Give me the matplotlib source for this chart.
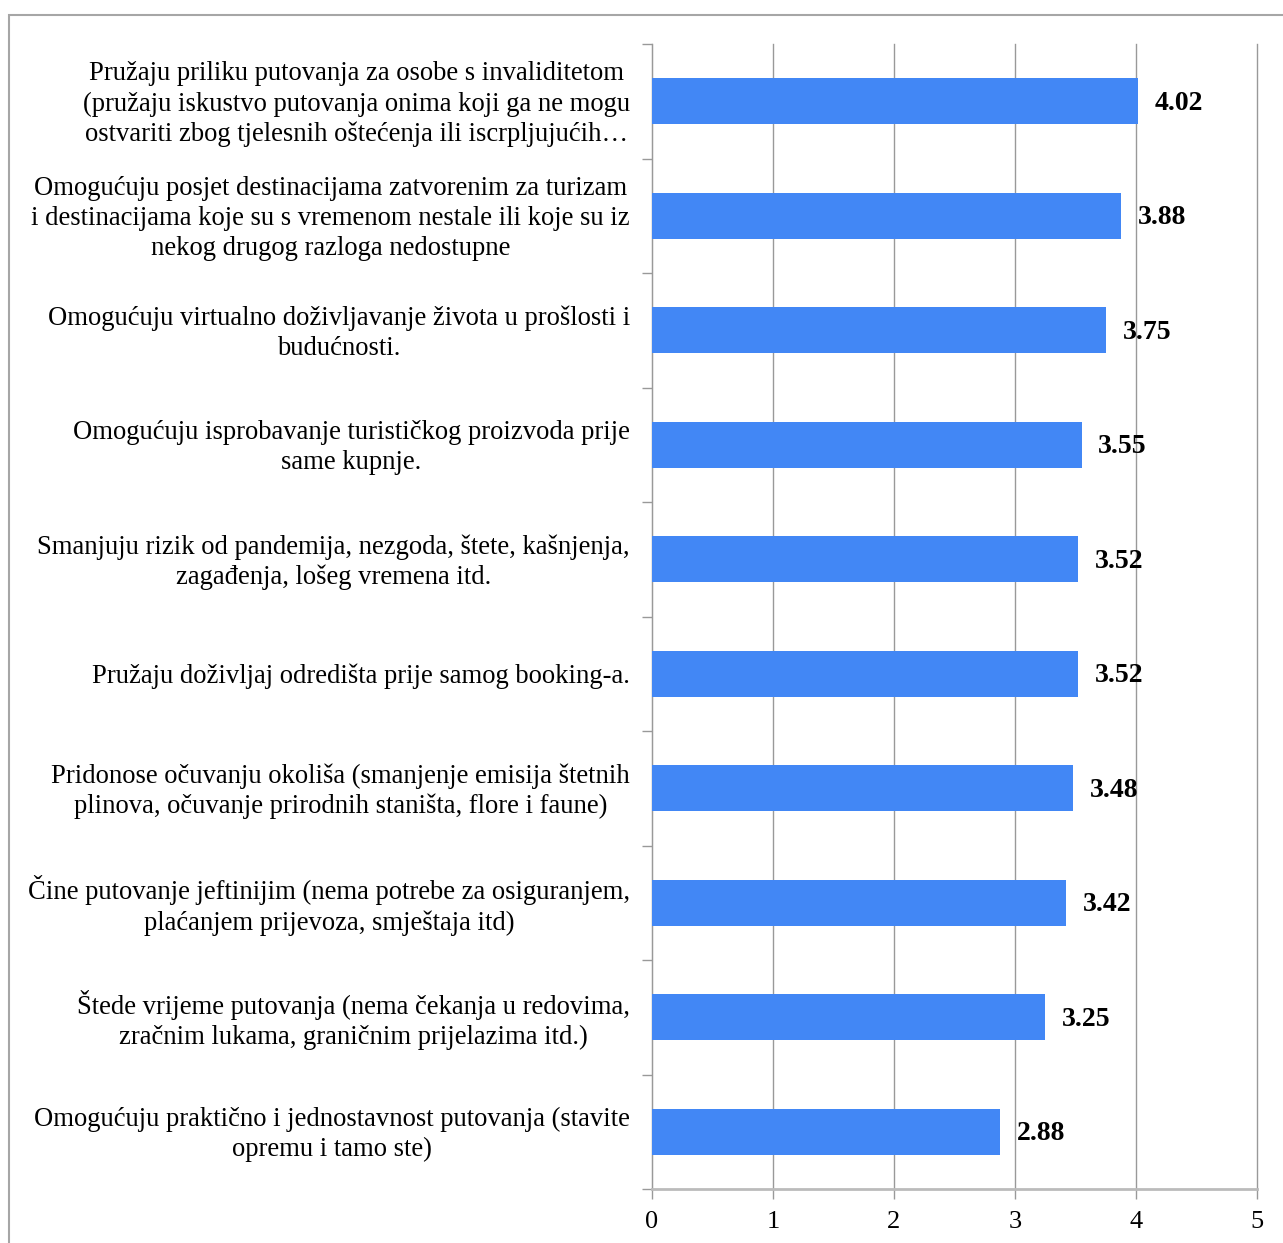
import matplotlib.pyplot as plt
from matplotlib.patches import Rectangle

plt.rcParams['font.family'] = ['Liberation Serif', 'DejaVu Serif']

labels = [
    "Pružaju priliku putovanja za osobe s invaliditetom\n(pružaju iskustvo putovanja onima koji ga ne mogu\nostvariti zbog tjelesnih oštećenja ili iscrpljujućih…",
    "Omogućuju posjet destinacijama zatvorenim za turizam\ni destinacijama koje su s vremenom nestale ili koje su iz\nnekog drugog razloga nedostupne",
    "Omogućuju virtualno doživljavanje života u prošlosti i\nbudućnosti.",
    "Omogućuju isprobavanje turističkog proizvoda prije\nsame kupnje.",
    "Smanjuju rizik od pandemija, nezgoda, štete, kašnjenja,\nzagađenja, lošeg vremena itd.",
    "Pružaju doživljaj odredišta prije samog booking-a.",
    "Pridonose očuvanju okoliša (smanjenje emisija štetnih\nplinova, očuvanje prirodnih staništa, flore i faune)",
    "Čine putovanje jeftinijim (nema potrebe za osiguranjem,\nplaćanjem prijevoza, smještaja itd)",
    "Štede vrijeme putovanja (nema čekanja u redovima,\nzračnim lukama, graničnim prijelazima itd.)",
    "Omogućuju praktično i jednostavnost putovanja (stavite\nopremu i tamo ste)",
]
values = [4.02, 3.88, 3.75, 3.55, 3.52, 3.52, 3.48, 3.42, 3.25, 2.88]
x_ticks = [0, 1, 2, 3, 4, 5]

W, H = 1283, 1243
fig = plt.figure(figsize=(W / 100, H / 100), dpi=100)
ax = fig.add_axes([652 / W, 1 - 1189 / H, (1257 - 652) / W, (1189 - 44) / H])

# outer frame around the whole chart
fig.patches.append(Rectangle((9 / W, -0.05), 1.2, 1 - 15 / H + 0.05,
                             transform=fig.transFigure, fill=False,
                             edgecolor='#a6a6a6', linewidth=1.5))

n = len(values)
ypos = [n - 1 - i for i in range(n)]
ax.barh(ypos, values, height=0.4, color='#4287F5', zorder=3)

for y, v in zip(ypos, values):
    ax.annotate(f"{v:.2f}", (v, y), xytext=(12, -1.5), textcoords='offset points',
                ha='left', va='center', fontsize=20, fontweight='bold', zorder=4)

ax.set_xlim(0, 5)
ax.set_ylim(-0.5, n - 0.5)
ax.set_xticks(x_ticks)
ax.set_xticklabels([str(t) for t in x_ticks], fontsize=19)

# category boundaries carry the y ticks, labels sit just below the centres
ax.set_yticks([y - 0.5 for y in range(n + 1)])
ax.set_yticklabels([])
ax.set_yticks([y - 0.026 for y in ypos], minor=True)
ax.set_yticklabels(labels, minor=True, fontsize=19.2)
for t in ax.get_yticklabels(minor=True):
    t.set_multialignment('center')
    t.set_linespacing(1.26)
    t.set_verticalalignment('center')
ax.tick_params(axis='y', which='minor', length=0, pad=16)
ax.tick_params(axis='y', which='major', length=7, color='#999999', width=1)
ax.tick_params(axis='x', length=7, color='#999999', width=1, pad=9)

ax.grid(axis='x', color='#999999', linewidth=1, zorder=0)
for g in ax.get_xgridlines():
    g.set_clip_on(False)
for s in ['top', 'right']:
    ax.spines[s].set_visible(False)
ax.spines['left'].set_color('#999999')
ax.spines['bottom'].set_color('#bbbbbb')
ax.spines['bottom'].set_linewidth(2)

fig.savefig('out.png', dpi=100)
